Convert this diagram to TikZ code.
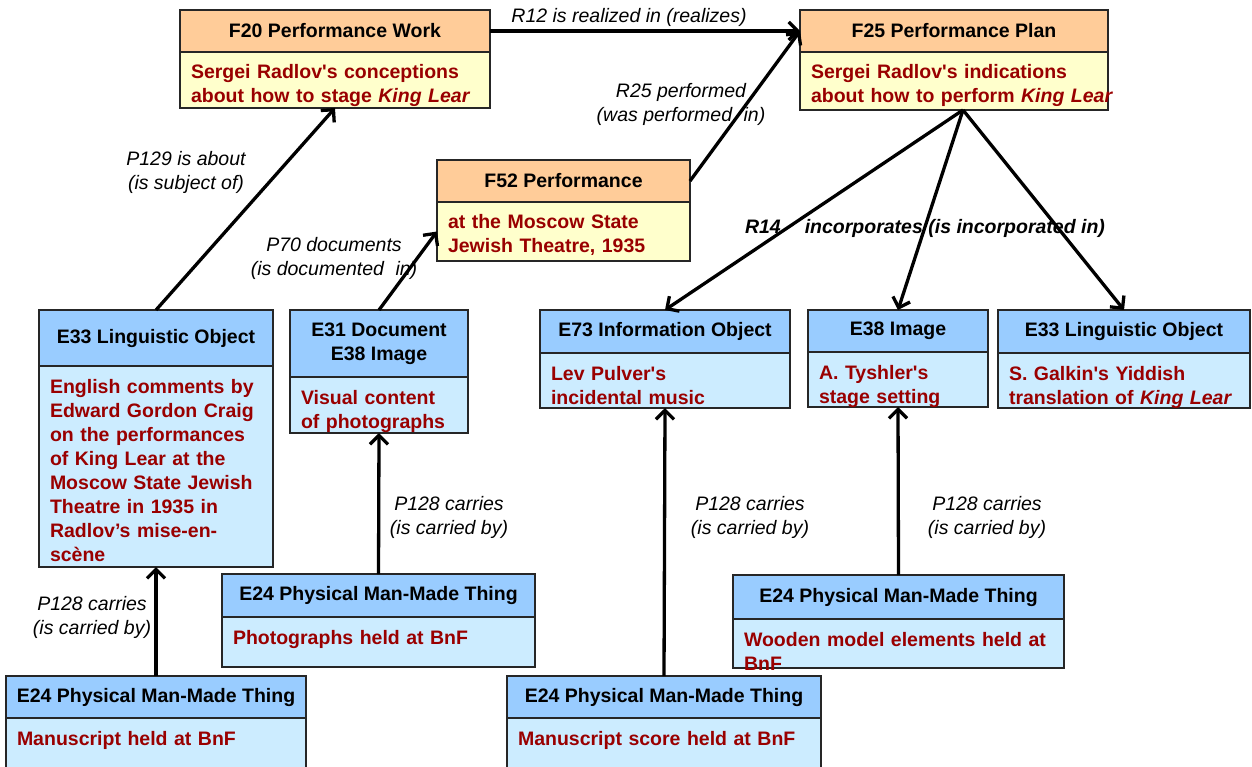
\documentclass[tikz,border=0pt]{standalone}
\usepackage{fontspec}
\setmainfont{Liberation Sans}[Ligatures=TeXOff]
\usepackage{tikz}
\usetikzlibrary{arrows.meta,positioning}

\definecolor{colF}{HTML}{FFCC99}
\definecolor{colFb}{HTML}{FFFFCC}
\definecolor{colE}{HTML}{99CCFF}
\definecolor{colEb}{HTML}{CCECFF}
\definecolor{colTxt}{HTML}{990000}

\tikzset{
  box/.style={draw=black!85, line width=1.2pt, outer sep=0pt, anchor=north west,
    font=\fontsize{19.5}{24}\selectfont\bfseries},
  fhead/.style={box, fill=colF},
  ehead/.style={box, fill=colE},
  fbody/.style={box, fill=colFb, text=colTxt, align=left, inner xsep=11pt, inner ysep=0pt,
    text height=27pt, text depth=#1},
  ebody/.style={box, fill=colEb, text=colTxt, align=left, inner xsep=11pt, inner ysep=0pt,
    text height=27pt, text depth=#1},
  rel/.style={line width=3.3pt, -{Straight Barb[length=9pt,width=18pt]}},
  lbl/.style={font=\fontsize{19.5}{24}\selectfont\itshape, align=center}
}

\begin{document}
\begin{tikzpicture}[x=1pt,y=-1pt]
\clip (0,0) rectangle (1252,767);

\node[fhead, minimum width=310, minimum height=42] (f20h) at (180,10) {F20 Performance Work};
\node[fbody=29pt, text width=288pt] (f20b) at (f20h.south west)
  {Sergei Radlov's conceptions\\about how to stage {\itshape King Lear}};

\node[fhead, minimum width=308, minimum height=42] (f25h) at (800,10) {F25 Performance Plan};
\node[fbody=31pt, text width=286pt] (f25b) at (f25h.south west)
  {Sergei Radlov's indications\\\mbox{about how to perform {\itshape King Lear}}};

\node[fhead, minimum width=253, minimum height=42] (f52h) at (437,160) {F52 Performance};
\node[fbody=32pt, text width=231pt] (f52b) at (f52h.south west)
  {at the Moscow State\\Jewish Theatre, 1935};

\node[ehead, minimum width=234, minimum height=56] (e33lh) at (39,310) {E33 Linguistic Object};
\node[ebody=174pt, text width=212pt] (e33lb) at (e33lh.south west)
  {English comments by\\Edward Gordon Craig\\on the performances\\of King Lear at the\\Moscow State Jewish\\Theatre in 1935 in\\Radlov’s mise-en-\\scène};

\node[ehead, minimum width=178, minimum height=67, align=center] (e31h) at (290,310) {E31 Document\\E38 Image};
\node[ebody=29pt, text width=156pt] (e31b) at (e31h.south west)
  {Visual content\\of photographs};

\node[ehead, minimum width=250, minimum height=43] (e73h) at (540,310) {E73 Information Object};
\node[ebody=28pt, text width=228pt] (e73b) at (e73h.south west)
  {Lev Pulver's\\incidental music};

\node[ehead, minimum width=180, minimum height=42] (e38h) at (808,310) {E38 Image};
\node[ebody=28pt, text width=158pt] (e38b) at (e38h.south west)
  {A. Tyshler's\\stage setting};

\node[ehead, minimum width=252, minimum height=43] (e33rh) at (998,310) {E33 Linguistic Object};
\node[ebody=28pt, text width=230pt] (e33rb) at (e33rh.south west)
  {S. Galkin's Yiddish\\translation of {\itshape King Lear}};

\node[ehead, minimum width=313, minimum height=43] (e24ah) at (222,574) {E24 Physical Man-Made Thing};
\node[ebody=23pt, text width=291pt] (e24ab) at (e24ah.south west)
  {Photographs held at BnF};

\node[ehead, minimum width=300, minimum height=42] (e24bh) at (6,676) {E24 Physical Man-Made Thing};
\node[ebody=63pt, text width=278pt] (e24bb) at (e24bh.south west)
  {Manuscript held at BnF};

\node[ehead, minimum width=314, minimum height=42] (e24ch) at (507,676) {E24 Physical Man-Made Thing};
\node[ebody=63pt, text width=292pt] (e24cb) at (e24ch.south west)
  {Manuscript score held at BnF};

\node[ehead, minimum width=331, minimum height=44] (e24dh) at (733,575) {E24 Physical Man-Made Thing};
\node[ebody=22pt, text width=309pt] (e24db) at (e24dh.south west)
  {Wooden model elements held at\\BnF};

\draw[rel] (f20h.east) -- (f25h.west);
\draw[rel] (f52h.east) -- (f25h.west);
\draw[rel] (e33lh.north) -- (f20b.south);
\draw[rel] (e31h.north) -- (f52b.west);
\coordinate (f25out) at ([xshift=9pt]f25b.south);
\draw[rel] (f25out) -- (e73h.north);
\draw[rel] (f25out) -- (e38h.north);
\draw[rel] (f25out) -- (e33rh.north);
\draw[rel] (e24ah.north) -- (e31b.south);
\draw[rel] (e24bh.north) -- (e33lb.south);
\draw[rel] (e24ch.north) -- (e73b.south);
\draw[rel] (e24dh.north) -- (e38b.south);

\node[lbl] (r12) at (629,17) {R12 is realized in (realizes)};
\node[lbl] (r25) at (681,104) {R25 performed\\(was performed\hspace{6pt} in)};
\node[lbl] (p129) at (186,172) {P129 is about\\(is subject of)};
\node[lbl] (p70) at (334,258) {P70 documents\\(is documented\hspace{6pt} in)};
\node[lbl, font=\fontsize{19.5}{24}\selectfont\bfseries\itshape] (r14) at (925,228)
  {R14\hspace{24pt}incorporates (is incorporated in)};
\node[lbl] (p128a) at (92,617) {P128 carries\\(is carried by)};
\node[lbl] (p128b) at (449,517) {P128 carries\\(is carried by)};
\node[lbl] (p128c) at (750,517) {P128 carries\\(is carried by)};
\node[lbl] (p128d) at (987,517) {P128 carries\\(is carried by)};
\end{tikzpicture}
\end{document}
